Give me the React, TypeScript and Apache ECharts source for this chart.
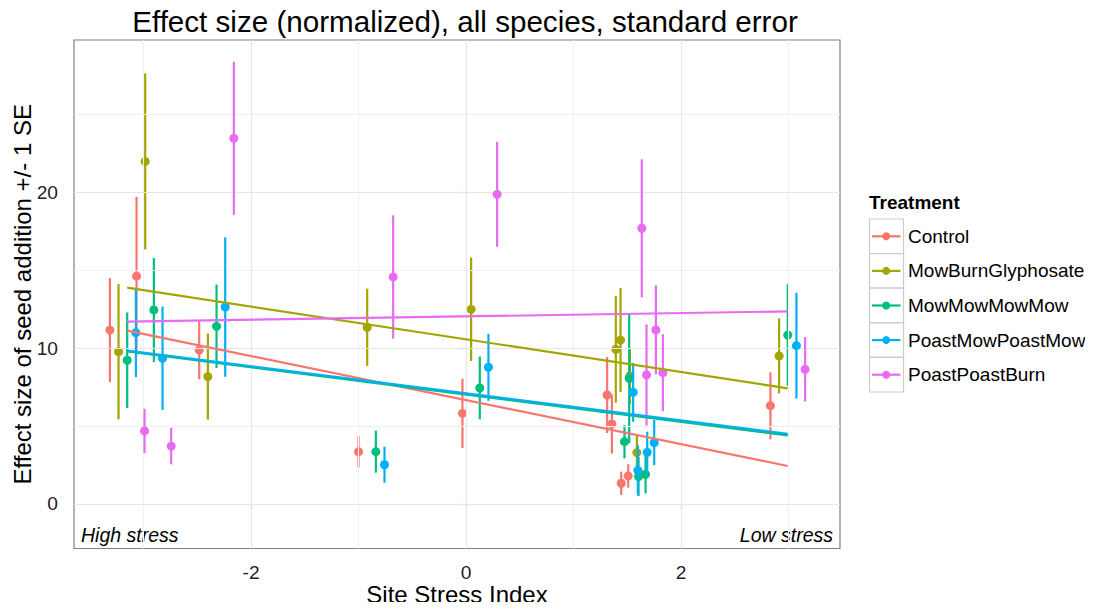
import React, { useEffect, useRef } from "react";
import * as echarts from "echarts";

const treatments = ["Control", "MowBurnGlyphosate", "MowMowMowMow", "PoastMowPoastMow", "PoastPoastBurn"];
const colors = ["#F8766D", "#A3A500", "#00BF7D", "#00B0F6", "#E76BF3"];

// site stress index of each site (cluster centre)
const siteStress = [-3.152, -2.904, -2.321, -0.839, 0.128, 1.474, 1.518, 1.605, 1.67, 2.993];
const dodgeStep = 0.0806;

const controlMean = [11.17, 14.63, 9.89, 3.36, 5.82, 7.0, 5.14, 1.33, 1.8, 6.31];
const controlSE = [3.34, 5.1, 1.88, 1.0, 2.22, 2.44, 1.9, 0.75, 0.75, 2.15];
const mowBurnGlyMean = [9.78, 22.0, 8.18, 11.35, 12.5, 9.93, 10.53, 8.22, 3.3, 9.51];
const mowBurnGlySE = [4.35, 5.65, 2.76, 2.48, 3.32, 3.43, 3.34, 1.8, 1.07, 2.41];
const mowMowMean = [9.23, 12.46, 11.41, 3.36, 7.45, 4.0, 8.07, 1.76, 1.91, 10.85];
const mowMowSE = [3.07, 3.34, 2.68, 1.35, 2.01, 1.07, 4.17, 1.25, 1.23, 3.26];
const poastMowMean = [11.0, 9.36, 12.65, 2.52, 8.78, 7.17, 2.16, 3.32, 3.94, 10.17];
const poastMowSE = [2.85, 3.32, 4.48, 1.16, 2.15, 1.89, 1.6, 1.32, 1.45, 3.4];
const poastBurnMean = [4.69, 3.72, 23.49, 14.58, 19.89, 17.71, 8.29, 11.18, 8.43, 8.65];
const poastBurnSE = [1.42, 1.18, 4.92, 3.96, 3.37, 4.43, 3.25, 2.86, 2.47, 2.07];

const means = [controlMean, mowBurnGlyMean, mowMowMean, poastMowMean, poastBurnMean];
const ses = [controlSE, mowBurnGlySE, mowMowSE, poastMowSE, poastBurnSE];

// linear fit lines: value at min and max site stress
const trendX = [-3.152, 2.993];
const trendStart = [11.13, 13.89, 9.8, 9.85, 11.71];
const trendEnd = [2.44, 7.43, 4.4, 4.5, 12.37];

const xMajor = [-2, 0, 2];
const xMinor = [-3, -1, 1, 3];
const yMajor = [0, 10, 20];
const yMinor = [5, 15, 25];

const FONT = "'Liberation Sans', Arial, Helvetica, sans-serif";

export default function App() {
  const ref = useRef<HTMLDivElement>(null);
  useEffect(() => {
    if (!ref.current) return;
    const chart = echarts.init(ref.current, null, { renderer: "svg" });

    const series: any[] = [];
    // grid lines
    series.push({
      type: "line",
      data: [],
      silent: true,
      z: 0,
      markLine: {
        silent: true,
        symbol: "none",
        animation: false,
        label: { show: false },
        lineStyle: { color: "#f0f0f0", width: 1, type: "solid" },
        data: [...xMinor.map((v) => ({ xAxis: v })), ...yMinor.map((v) => ({ yAxis: v }))],
      },
    });
    series.push({
      type: "line",
      data: [],
      silent: true,
      z: 0,
      markLine: {
        silent: true,
        symbol: "none",
        animation: false,
        label: { show: false },
        lineStyle: { color: "#e6e6e6", width: 1.1, type: "solid" },
        data: [...xMajor.map((v) => ({ xAxis: v })), ...yMajor.map((v) => ({ yAxis: v }))],
      },
    });

    treatments.forEach((name, i) => {
      const off = (i - 2) * dodgeStep;
      const bars = siteStress.map((s, k) => [s + off, means[i][k] - ses[i][k], means[i][k] + ses[i][k]]);
      const pts = siteStress.map((s, k) => [s + off, means[i][k]]);
      series.push({
        type: "custom",
        name,
        z: 2 + i,
        data: bars,
        encode: { x: 0, y: [1, 2] },
        renderItem: (params: any, api: any) => {
          const p1 = api.coord([api.value(0), api.value(1)]);
          const p2 = api.coord([api.value(0), api.value(2)]);
          return {
            type: "line",
            shape: { x1: p1[0], y1: p1[1], x2: p2[0], y2: p2[1] },
            style: { stroke: colors[i], lineWidth: 2.2 },
          };
        },
      });
      series.push({
        type: "scatter",
        name,
        z: 2 + i,
        data: pts,
        symbol: "circle",
        symbolSize: 9,
        itemStyle: { color: colors[i], opacity: 1 },
      });
    });
    treatments.forEach((name, i) => {
      series.push({
        type: "line",
        name,
        z: 10 + i,
        data: [
          [trendX[0], trendStart[i]],
          [trendX[1], trendEnd[i]],
        ],
        showSymbol: false,
        symbol: "none",
        lineStyle: { color: colors[i], width: 2.2 },
      });
    });

    const rowH = 34.6;
    const keyTop = 219;
    const legendEls: any[] = [
      {
        type: "text",
        left: 869,
        top: 193,
        style: { text: "Treatment", font: `bold 19px ${FONT}`, fill: "#000" },
      },
    ];
    treatments.forEach((name, i) => {
      const y0 = keyTop + rowH * i;
      legendEls.push({
        type: "rect",
        shape: { x: 869.5, y: y0, width: 34, height: rowH },
        style: { fill: "#fff", stroke: "#cccccc", lineWidth: 1.2 },
      });
      legendEls.push({
        type: "line",
        shape: { x1: 872, y1: y0 + rowH / 2, x2: 900.5, y2: y0 + rowH / 2 },
        style: { stroke: colors[i], lineWidth: 2.2 },
      });
      legendEls.push({
        type: "circle",
        shape: { cx: 886.2, cy: y0 + rowH / 2, r: 4 },
        style: { fill: colors[i] },
      });
      legendEls.push({
        type: "text",
        x: 908,
        y: y0 + rowH / 2,
        style: { text: name, font: `19px ${FONT}`, fill: "#000", verticalAlign: "middle" },
      });
    });

    chart.setOption({
      animation: false,
      backgroundColor: "#fff",
      textStyle: { fontFamily: FONT },
      title: {
        text: "Effect size (normalized), all species, standard error",
        left: 460,
        top: 1,
        textAlign: "center",
        textStyle: { fontSize: 29.6, fontWeight: "normal", color: "#000", fontFamily: FONT },
      },
      legend: { show: false },
      grid: {
        left: 74,
        right: 253,
        top: 40,
        bottom: 61.5,
        show: true,
        borderColor: "#7f7f7f",
        borderWidth: 1.2,
        backgroundColor: "#fff",
        containLabel: false,
        outerBoundsMode: "none",
      },
      xAxis: {
        type: "value",
        min: -3.647,
        max: 3.479,
        name: "Site Stress Index",
        nameLocation: "middle",
        nameGap: 34,
        nameMoveOverlap: false,
        nameTextStyle: { fontSize: 24, lineHeight: 24, color: "#000", fontFamily: FONT },
        axisLine: { show: false },
        splitLine: { show: false },
        axisTick: { show: true, length: 5, customValues: xMajor, lineStyle: { color: "#333", width: 1.1 } },
        axisLabel: { customValues: xMajor, fontSize: 19.2, lineHeight: 17, color: "#222", margin: 15.5, fontFamily: FONT },
      },
      yAxis: {
        type: "value",
        min: -2.86,
        max: 29.8,
        name: "Effect size of seed addition +/- 1 SE",
        nameLocation: "middle",
        nameGap: 40,
        nameRotate: 90,
        nameMoveOverlap: false,
        nameTextStyle: { fontSize: 24, color: "#000", fontFamily: FONT },
        axisLine: { show: false },
        splitLine: { show: false },
        axisTick: { show: true, length: 5, customValues: yMajor, lineStyle: { color: "#333", width: 1.1 } },
        axisLabel: { customValues: yMajor, fontSize: 19.2, color: "#222", margin: 16, fontFamily: FONT },
      },
      graphic: [
        {
          type: "text",
          left: 81,
          top: 525,
          style: { text: "High stress", font: `italic 19.5px ${FONT}`, fill: "#000" },
        },
        {
          type: "text",
          right: 260,
          top: 525,
          style: { text: "Low stress", font: `italic 19.5px ${FONT}`, fill: "#000" },
        },
        { type: "group", children: legendEls },
      ],
      series,
    });
    return () => chart.dispose();
  }, []);
  return <div ref={ref} style={{ width: 1093, height: 610, margin: -8 }} />;
}
